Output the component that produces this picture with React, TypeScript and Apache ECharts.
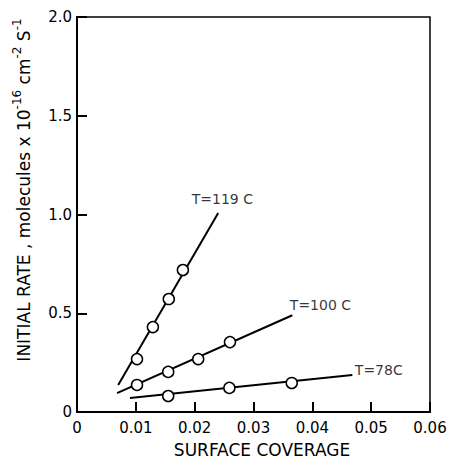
import React, { useEffect, useRef } from "react";
import * as echarts from "echarts";

// Measured points (surface coverage, initial rate)
const t119X = [0.0102, 0.0129, 0.0156, 0.018];
const t119Y = [0.268, 0.43, 0.572, 0.719];
const t100X = [0.0102, 0.0155, 0.0206, 0.026];
const t100Y = [0.137, 0.203, 0.268, 0.354];
const t78X = [0.0155, 0.0259, 0.0365];
const t78Y = [0.081, 0.122, 0.147];

// Fitted line end points
const fit119X = [0.007, 0.024];
const fit119Y = [0.137, 1.007];
const fit100X = [0.0068, 0.0366];
const fit100Y = [0.096, 0.49];
const fit78X = [0.009, 0.0468];
const fit78Y = [0.071, 0.187];

const seriesLabels = ["T=119 C", "T=100 C", "T=78C"];
const xTicks = ["0", "0.01", "0.02", "0.03", "0.04", "0.05", "0.06"];
const yTicks = ["0", "0.5", "1.0", "1.5", "2.0"];

const FONT = "DejaVu Sans";

const pairs = (xs: number[], ys: number[]) => xs.map((x, i) => [x, ys[i]]);

export default function App() {
  const ref = useRef<HTMLDivElement>(null);
  useEffect(() => {
    if (!ref.current) return;
    const chart = echarts.init(ref.current, null, { renderer: "svg" });
    const lineS = (xs: number[], ys: number[]) => ({
      type: "line",
      data: pairs(xs, ys),
      symbol: "none",
      lineStyle: { color: "#000", width: 2 },
      z: 2,
    });
    const ptS = (xs: number[], ys: number[]) => ({
      type: "scatter",
      data: pairs(xs, ys),
      symbol: "circle",
      symbolSize: 11,
      itemStyle: { color: "#fff", borderColor: "#000", borderWidth: 1.5, opacity: 1 },
      z: 3,
    });
    const labelS = (x: number, y: number, text: string, pos: any, align: string) => ({
      type: "scatter",
      data: [[x, y]],
      symbolSize: 1,
      itemStyle: { color: "rgba(0,0,0,0)" },
      label: {
        show: true,
        formatter: text,
        position: pos,
        align,
        verticalAlign: "middle",
        color: "#000",
        fontFamily: FONT,
        fontSize: 14,
      },
      z: 4,
      silent: true,
    });
    chart.setOption({
      animation: false,
      backgroundColor: "#fff",
      grid: {
        left: 77,
        right: 23,
        top: 17,
        bottom: 49,
        show: true,
        borderColor: "#000",
        borderWidth: 1.5,
      },
      xAxis: {
        type: "value",
        min: 0,
        max: 0.06,
        interval: 0.01,
        axisLine: { lineStyle: { color: "#000", width: 2 } },
        axisTick: { inside: true, length: 10, lineStyle: { color: "#000", width: 2 } },
        splitLine: { show: false },
        axisLabel: {
          color: "#000",
          fontFamily: FONT,
          fontSize: 15,
          margin: 8,
          formatter: (v: number) => xTicks[Math.round(v * 100)],
        },
      },
      yAxis: {
        type: "value",
        min: 0,
        max: 2,
        interval: 0.5,
        axisLine: { lineStyle: { color: "#000", width: 2 } },
        axisTick: { inside: true, length: 10, lineStyle: { color: "#000", width: 2 } },
        splitLine: { show: false },
        axisLabel: {
          color: "#000",
          fontFamily: FONT,
          fontSize: 15,
          margin: 5,
          formatter: (v: number) => yTicks[Math.round(v * 2)],
        },
      },
      graphic: [
        {
          type: "text",
          x: 262,
          y: 450,
          style: {
            text: "SURFACE COVERAGE",
            fill: "#000",
            font: `17px "${FONT}"`,
            textAlign: "center",
            textVerticalAlign: "middle",
          },
        },
        {
          type: "text",
          x: 24,
          y: 190,
          rotation: Math.PI / 2,
          style: {
            text: "{n|INITIAL RATE , molecules x 10}{s|-16}{n| cm}{s|-2}{n| S}{s|-1}",
            fill: "#000",
            textAlign: "center",
            textVerticalAlign: "middle",
            rich: {
              n: { fontFamily: FONT, fontSize: 17, lineHeight: 26, fill: "#000" },
              s: { fontFamily: FONT, fontSize: 12, verticalAlign: "top", lineHeight: 26, padding: [0, 0, 12, 0], fill: "#000" },
            },
          },
        },
      ],
      series: [
        lineS(fit119X, fit119Y),
        lineS(fit100X, fit100Y),
        lineS(fit78X, fit78Y),
        ptS(t119X, t119Y),
        ptS(t100X, t100Y),
        ptS(t78X, t78Y),
        labelS(fit119X[1], fit119Y[1], seriesLabels[0], [-26, -14], "left"),
        labelS(fit100X[1], fit100Y[1], seriesLabels[1], [-2, -10], "left"),
        labelS(fit78X[1], fit78Y[1], seriesLabels[2], [3, -5], "left"),
      ],
    });
    return () => chart.dispose();
  }, []);
  return (
    <div
      ref={ref}
      style={{ position: "fixed", left: 0, top: 0, width: 453, height: 461 }}
    />
  );
}
